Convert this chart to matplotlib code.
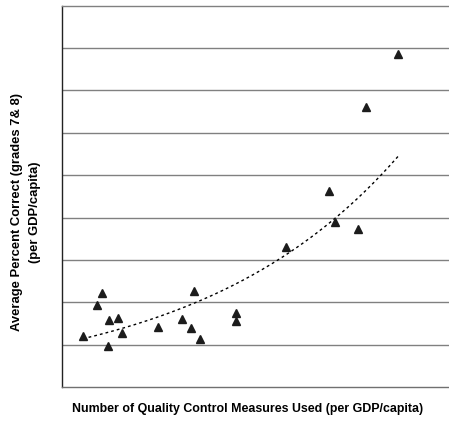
import numpy as np
import matplotlib
matplotlib.use("Agg")
import matplotlib.pyplot as plt

plt.rcParams['font.family'] = ['Liberation Sans', 'DejaVu Sans']

# Data (arbitrary units; axis has no tick labels)
qc_measures = [5.4, 10.3, 9.0, 12.2, 14.4, 15.4, 11.8, 24.9, 34.1, 31.1,
               33.3, 35.7, 45.0, 45.0, 57.9, 68.9, 70.6, 76.6, 78.5, 86.9]
pct_correct = [1.20, 2.23, 1.94, 1.58, 1.64, 1.28, 0.96, 1.42, 2.27, 1.61,
               1.39, 1.13, 1.75, 1.56, 3.30, 4.62, 3.90, 3.74, 6.62, 7.85]

x_label = "Number of Quality Control Measures Used (per GDP/capita)"
y_label = "Average Percent Correct (grades 7& 8)\n(per GDP/capita)"

x = np.array(qc_measures)
y = np.array(pct_correct)

fig = plt.figure(figsize=(4.49, 4.21), dpi=100)
ax = fig.add_axes([62/449, (421-387)/421, 1 - 62/449, (387-5.7)/421])

ax.set_xlim(0, 100)
ax.set_ylim(0, 9)
ax.set_yticks(np.arange(1, 9))
ax.set_xticks([])
ax.tick_params(axis='y', length=0, labelleft=False)
ax.yaxis.grid(True, color='#808080', linewidth=1.0)
ax.set_axisbelow(True)

ax.spines['right'].set_visible(False)
ax.spines['top'].set_color('#808080')
ax.spines['top'].set_linewidth(1.0)
ax.spines['bottom'].set_color('#707070')
ax.spines['bottom'].set_linewidth(1.0)
ax.spines['left'].set_color('#222222')
ax.spines['left'].set_linewidth(1.0)

# Exponential trend line (least squares on log y)
b, ln_a = np.polyfit(x, np.log(y), 1)
xt = np.linspace(x.min(), x.max(), 200)
ax.plot(xt, np.exp(ln_a) * np.exp(b * xt), color='black', linewidth=1.0,
        linestyle=(0, (2, 2.2)), zorder=3)

ax.plot(x, y, linestyle='none', marker='^', markersize=6.3,
        color='#1c1c1c', zorder=4, clip_on=False)

fig.text(248/449, 1 - 409/421, x_label, ha='center', va='center',
         fontsize=8.9, fontweight='bold')
fig.text(26/449, 1 - 212/421, y_label, ha='center', va='center',
         rotation=90, fontsize=9.4, fontweight='bold', linespacing=1.65,
         multialignment='center')

fig.savefig("out.png", dpi=100)
